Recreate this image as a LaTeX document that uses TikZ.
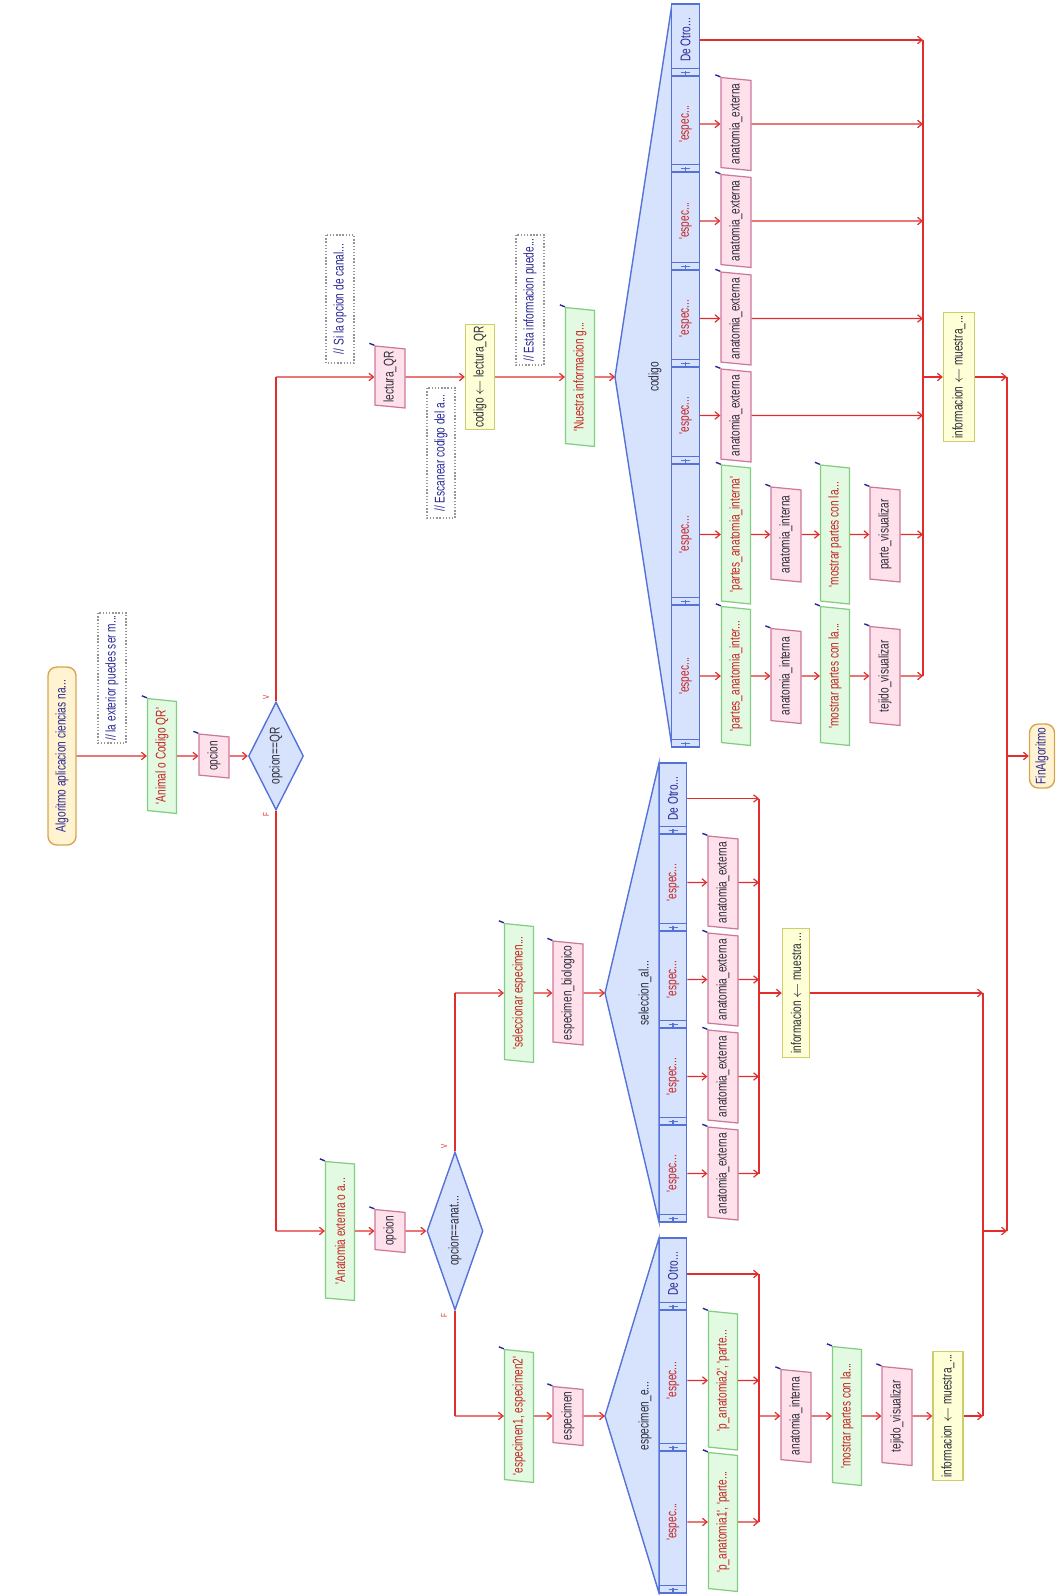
\documentclass[tikz,border=0pt]{standalone}
\usepackage{fontspec}
\newfontfamily\chartfont{Liberation Sans}[FakeStretch=0.72]
\usepackage{tikz}
\usetikzlibrary{arrows.meta,shapes.geometric}
\usepackage{xcolor}
\definecolor{flowred}{RGB}{225,45,45}
\definecolor{outfill}{RGB}{225,250,225}
\definecolor{outdraw}{RGB}{130,205,130}
\definecolor{infill}{RGB}{255,225,235}
\definecolor{indraw}{RGB}{205,120,155}
\definecolor{asgfill}{RGB}{255,255,215}
\definecolor{asgdraw}{RGB}{205,205,110}
\definecolor{swfill}{RGB}{215,227,252}
\definecolor{swdraw}{RGB}{85,115,215}
\definecolor{termfill}{RGB}{255,243,210}
\definecolor{termdraw}{RGB}{215,165,80}
\definecolor{txtred}{RGB}{200,35,35}
\definecolor{txtblue}{RGB}{40,40,150}
\definecolor{txtdark}{RGB}{45,45,60}
\definecolor{cmtgray}{RGB}{150,150,150}

\begin{document}
\begin{tikzpicture}[
  x=0.02cm, y=-0.02cm,
  >={Straight Barb[length=0.9mm,width=1.5mm]},
  chartnode/.style={rotate=90,inner sep=1pt,
    font=\chartfont\fontsize{8}{9}\selectfont},
  termbox/.style={chartnode,draw=termdraw,fill=termfill,rounded corners=5pt,
    line width=0.8pt,text=txtblue,minimum height=0.56cm},
  outbox/.style={chartnode,trapezium,trapezium left angle=80,
    trapezium right angle=100,trapezium stretches body,draw=outdraw,
    fill=outfill,line width=0.7pt,text=txtred,minimum width=2.78cm,
    minimum height=0.58cm},
  inbox/.style={chartnode,trapezium,trapezium left angle=80,
    trapezium right angle=100,trapezium stretches body,draw=indraw,
    fill=infill,line width=0.7pt,text=txtdark,minimum width=1.86cm,
    minimum height=0.6cm},
  asgbox/.style={chartnode,draw=asgdraw,fill=asgfill,line width=0.8pt,
    text=txtdark,minimum width=2.58cm,minimum height=0.58cm},
  cmtbox/.style={chartnode,draw=cmtgray,densely dotted,line width=0.8pt,
    text=txtblue,minimum width=2.6cm,minimum height=0.56cm},
  decide/.style={chartnode,diamond,aspect=2,draw=swdraw,fill=swfill,
    line width=0.8pt,text=txtdark,inner sep=0pt},
  swcell/.style={chartnode,draw=swdraw,fill=swfill,line width=0.8pt,
    text=txtred,minimum height=0.55cm},
  swshape/.style={draw=swdraw,fill=swfill,line width=0.8pt},
  flow/.style={draw=flowred,line width=0.7pt},
  trunk/.style={draw=flowred,line width=1.4pt},
  vf/.style={rotate=90,text=flowred,inner sep=0pt,
    font=\chartfont\fontsize{5}{5}\selectfont}
]
  \useasboundingbox (0,0) rectangle (1056,1595);

  % main line
  \node[termbox,minimum width=3.56cm] (start) at (62,756)
    {Algoritmo aplicacion ciencias na...};
  \node[cmtbox] (cmtA) at (112,678) {// la exterior puedes ser m...};
  \node[outbox,minimum width=2.3cm] (o1) at (162,756) {'Animal o Codigo QR'};
  \node[inbox,minimum width=0.88cm] (i1) at (214,756) {opcion};
  \node[decide,minimum width=2.16cm,minimum height=1.1cm] (d1) at (276,756)
    {opcion==QR};
  \node[vf] (vA) at (266,697) {V};
  \node[vf] (fA) at (266,815) {F};

  % QR branch
  \node[cmtbox,minimum width=2.56cm] (cmtB) at (340,299)
    {// Si la opcion de canal...};
  \node[inbox,minimum width=1.24cm] (i2) at (390,377) {lectura\_QR};
  \node[cmtbox] (cmtC) at (441,453) {// Escanear codigo del a...};
  \node[asgbox,minimum width=2.02cm] (a1) at (480,377)
    {codigo $\leftarrow$ lectura\_QR};
  \node[cmtbox] (cmtD) at (530,300) {// Esta informacion puede...};
  \node[outbox] (o2) at (580,377) {'Nuestra informacion g...};

  \coordinate (swA) at (615,377);
  \draw[swshape] (swA) -- (672,4) -- (672,747) -- cycle;
  \node[chartnode,text=txtdark] (swAlab) at (655,377) {codigo};
  \node[swcell,minimum width=1.44cm,text=txtblue] (cA1) at (685.5,40) {De Otro...};
  \node[swcell,minimum width=1.92cm] (cA2) at (685.5,124) {'espec...};
  \node[swcell,minimum width=1.96cm] (cA3) at (685.5,221) {'espec...};
  \node[swcell,minimum width=1.94cm] (cA4) at (685.5,318.5) {'espec...};
  \node[swcell,minimum width=1.94cm] (cA5) at (685.5,415.5) {'espec...};
  \node[swcell,minimum width=2.82cm] (cA6) at (685.5,534.5) {'espec...};
  \node[swcell,minimum width=2.84cm] (cA7) at (685.5,676) {'espec...};

  \node[inbox] (i10) at (736,124) {anatomia\_externa};
  \node[inbox] (i9) at (736,221) {anatomia\_externa};
  \node[inbox] (i8) at (736,318.5) {anatomia\_externa};
  \node[inbox] (i7) at (736,415.5) {anatomia\_externa};
  \node[outbox] (o5) at (736,534.5) {'partes\_anatomia\_interna'};
  \node[inbox,minimum width=1.9cm] (i5) at (786,534.5) {anatomia\_interna};
  \node[outbox] (o6) at (835,534.5) {'mostrar partes con la...};
  \node[inbox,minimum width=1.9cm] (i6) at (885,534.5) {parte\_visualizar};
  \node[outbox] (o3) at (736,676) {'partes\_anatomia\_inter...};
  \node[inbox,minimum width=1.9cm] (i3) at (786,676) {anatomia\_interna};
  \node[outbox] (o4) at (835,676) {'mostrar partes con la...};
  \node[inbox,minimum width=1.98cm] (i4) at (885,676) {tejido\_visualizar};
  \coordinate (mA) at (923,40);
  \node[asgbox,minimum height=0.62cm] (a2) at (959,377)
    {informacion $\leftarrow$ muestra\_...};

  % anatomy branch
  \node[outbox] (o7) at (340,1231) {'Anatomia externa o a...};
  \node[inbox,minimum width=0.86cm] (i11) at (390,1231) {opcion};
  \node[decide,minimum width=3.16cm,minimum height=1.12cm] (d2) at (455,1231)
    {opcion==anat...};
  \node[vf] (vB) at (444,1146) {V};
  \node[vf] (fB) at (444,1316) {F};

  \node[outbox] (o8) at (519,993) {'seleccionar especimen...};
  \node[inbox,minimum width=2cm] (i12) at (568,993) {especimen\_biologico};
  \coordinate (swB) at (605,993);
  \draw[swshape] (swB) -- (659,763) -- (659,1222) -- cycle;
  \node[chartnode,text=txtdark] (swBlab) at (645,993) {seleccion\_al...};
  \node[swcell,minimum width=1.42cm,text=txtblue] (cB1) at (673,798.5) {De Otro...};
  \node[swcell,minimum width=1.94cm] (cB2) at (673,882.5) {'espec...};
  \node[swcell,minimum width=1.94cm] (cB3) at (673,979.5) {'espec...};
  \node[swcell,minimum width=1.94cm] (cB4) at (673,1076.5) {'espec...};
  \node[swcell,minimum width=1.94cm] (cB5) at (673,1173.5) {'espec...};
  \node[inbox] (i16) at (723,882.5) {anatomia\_externa};
  \node[inbox] (i17) at (723,979.5) {anatomia\_externa};
  \node[inbox] (i18) at (723,1076.5) {anatomia\_externa};
  \node[inbox] (i19) at (723,1173.5) {anatomia\_externa};
  \coordinate (mB) at (759,798.5);
  \node[asgbox,minimum height=0.54cm] (a3) at (796,993)
    {informacion $\leftarrow$ muestra ...};

  \node[outbox,minimum width=2.66cm] (o9) at (519,1416) {'especimen1, especimen2'};
  \node[inbox,minimum width=1.18cm] (i13) at (568,1416) {especimen};
  \coordinate (swC) at (605,1416);
  \draw[swshape] (swC) -- (659,1238) -- (659,1593) -- cycle;
  \node[chartnode,text=txtdark] (swClab) at (645,1416) {especimen\_e...};
  \node[swcell,minimum width=1.44cm,text=txtblue] (cC1) at (673,1274) {De Otro...};
  \node[swcell,minimum width=2.82cm] (cC2) at (673,1380.5) {'espec...};
  \node[swcell,minimum width=2.84cm] (cC3) at (673,1522) {'espec...};
  \node[outbox] (o10) at (723,1380.5) {'p\_anatomia2', 'parte...};
  \node[outbox] (o11) at (723,1522) {'p\_anatomia1', 'parte...};
  \coordinate (mD) at (759,1274);
  \node[inbox] (i14) at (796,1416) {anatomia\_interna};
  \node[outbox] (o12) at (847,1416) {'mostrar partes con la...};
  \node[inbox,minimum width=1.98cm] (i15) at (897,1416) {tejido\_visualizar};
  \node[asgbox,minimum height=0.6cm] (a4) at (948,1416)
    {informacion $\leftarrow$ muestra\_...};
  \coordinate (mC) at (983,993);

  \coordinate (mE) at (1007,377);
  \coordinate (mE2) at (1007,1231);
  \node[termbox,minimum width=1.28cm,minimum height=0.5cm] (end) at (1042,756)
    {FinAlgoritmo};

  % case cell bands
  \foreach \c in {cA1,cA2,cA3,cA4,cA5,cA6,cA7,cB1,cB2,cB3,cB4,cB5,cC1,cC2,cC3} {
    \draw[swdraw,line width=0.6pt] ([yshift=0.16cm]\c.north west)
      -- ([yshift=0.16cm]\c.south west);
    \draw[swdraw,line width=0.7pt] ([xshift=-0.09cm,yshift=0.08cm]\c.west)
      -- ([xshift=0.09cm,yshift=0.08cm]\c.west);
    \draw[swdraw,line width=0.6pt] ([yshift=0.04cm]\c.west)
      -- ([yshift=0.12cm]\c.west);
  }
  % output and input marks
  \foreach \n in {o1,o2,o3,o4,o5,o6,o7,o8,o9,o10,o11,o12,i1,i2,i3,i4,i5,i6,
      i7,i8,i9,i10,i11,i12,i13,i14,i15,i16,i17,i18,i19}
    \draw[txtblue,line width=0.8pt] (\n.top right corner) -- ++(-5,-2);

  % connectors
  \draw[flow,->] (start) -- (o1);
  \draw[flow,->] (o1) -- (i1);
  \draw[flow,->] (i1) -- (d1);

  \draw[trunk] (d1.east) -- (d1.east |- i2);
  \draw[flow,->] (d1.east |- i2) -- (i2);
  \draw[flow,->] (i2) -- (a1);
  \draw[flow,->] (a1) -- (o2);
  \draw[flow,->] (o2) -- (swA);
  \foreach \c/\n in {cA2/i10,cA3/i9,cA4/i8,cA5/i7,cA6/o5,cA7/o3}
    \draw[flow,->] (\c) -- (\n);
  \draw[flow,->] (o5) -- (i5);
  \draw[flow,->] (i5) -- (o6);
  \draw[flow,->] (o6) -- (i6);
  \draw[flow,->] (o3) -- (i3);
  \draw[flow,->] (i3) -- (o4);
  \draw[flow,->] (o4) -- (i4);
  \foreach \n in {cA1,i10,i9,i8,i7,i6,i4}
    \draw[flow,->] (\n) -- (\n -| mA);
  \draw[trunk] (mA) -- (mA |- i4);
  \draw[flow,->] (mA |- a2) -- (a2);
  \draw[flow,->] (a2) -- (mE);

  \draw[trunk] (d1.west) -- (d1.west |- o7);
  \draw[flow,->] (d1.west |- o7) -- (o7);
  \draw[flow,->] (o7) -- (i11);
  \draw[flow,->] (i11) -- (d2);

  \draw[trunk] (d2.east) -- (d2.east |- o8);
  \draw[flow,->] (d2.east |- o8) -- (o8);
  \draw[flow,->] (o8) -- (i12);
  \draw[flow,->] (i12) -- (swB);
  \foreach \c/\n in {cB2/i16,cB3/i17,cB4/i18,cB5/i19}
    \draw[flow,->] (\c) -- (\n);
  \foreach \n in {cB1,i16,i17,i18,i19}
    \draw[flow,->] (\n) -- (\n -| mB);
  \draw[trunk] (mB) -- (mB |- i19);
  \draw[flow,->] (mB |- a3) -- (a3);
  \draw[flow,->] (a3) -- (mC);

  \draw[trunk] (d2.west) -- (d2.west |- o9);
  \draw[flow,->] (d2.west |- o9) -- (o9);
  \draw[flow,->] (o9) -- (i13);
  \draw[flow,->] (i13) -- (swC);
  \draw[flow,->] (cC2) -- (o10);
  \draw[flow,->] (cC3) -- (o11);
  \foreach \n in {cC1,o10,o11}
    \draw[flow,->] (\n) -- (\n -| mD);
  \draw[trunk] (mD) -- (mD |- o11);
  \draw[flow,->] (mD |- i14) -- (i14);
  \draw[flow,->] (i14) -- (o12);
  \draw[flow,->] (o12) -- (i15);
  \draw[flow,->] (i15) -- (a4);
  \draw[flow,->] (a4) -- (a4 -| mC);
  \draw[trunk] (mC) -- (mC |- a4);
  \draw[flow,->] (mC |- mE2) -- (mE2);

  \draw[trunk] (mE) -- (mE2);
  \draw[flow,->] (mE |- end) -- (end);
\end{tikzpicture}
\end{document}
